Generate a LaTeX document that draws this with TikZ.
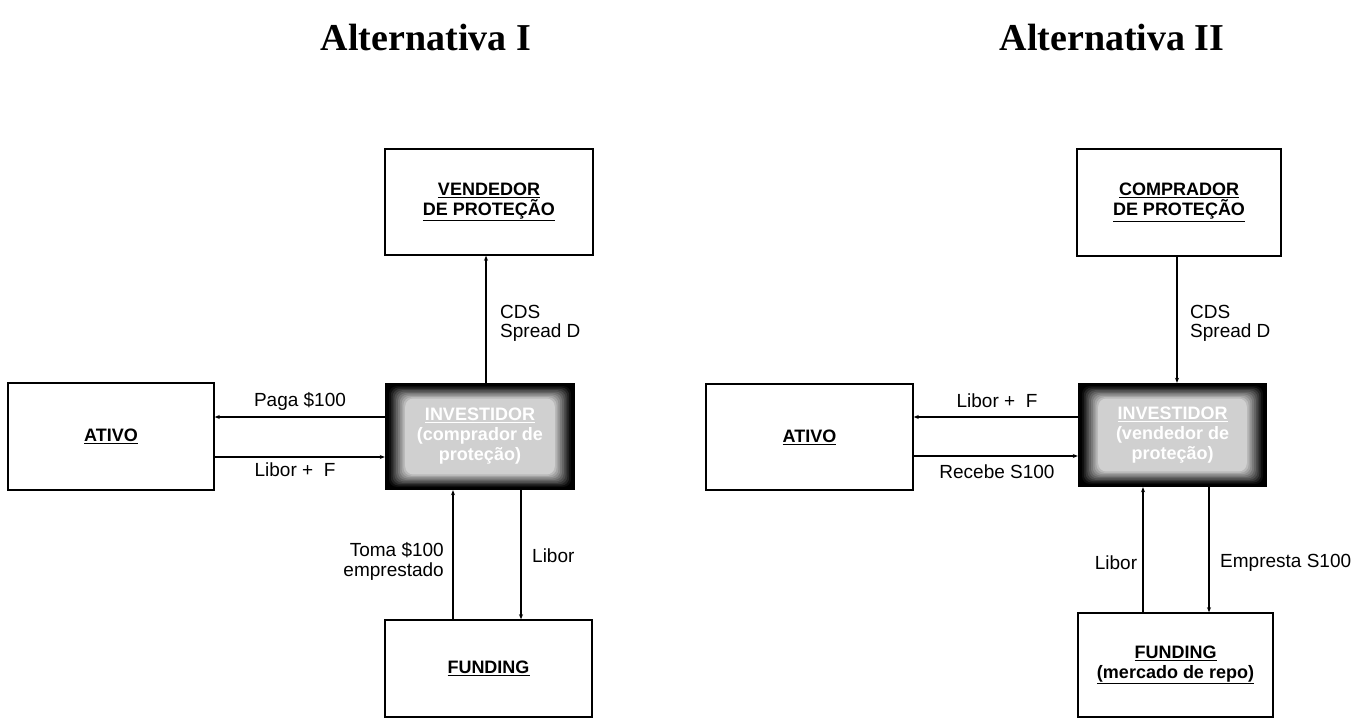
\documentclass[tikz,border=0pt]{standalone}
\usepackage{fontspec}
\setmainfont{Liberation Sans}
\newfontfamily\titlefont{Liberation Serif}
\usetikzlibrary{arrows.meta,calc}
\begin{document}
\begin{tikzpicture}[x=1pt,y=-1pt,
  box/.style={draw=black,line width=1.5pt,fill=white,align=center,font=\fontsize{18}{20}\selectfont\bfseries,inner sep=0pt},
  invbox/.style={fill=black,align=center,text=white,font=\fontsize{18}{20}\selectfont\bfseries,inner sep=0pt,
    path picture={
      \foreach \i in {0,...,9}{
        \pgfmathsetmacro{\ix}{4+1.8*\i}
        \pgfmathsetmacro{\iy}{3+1.4*\i}
        \pgfmathsetmacro{\cc}{95-8.5*\i}
        \fill[black!\cc,rounded corners=8pt]
          ($(path picture bounding box.south west)+(\ix pt,\iy pt)$) rectangle
          ($(path picture bounding box.north east)+(-\ix pt,-\iy pt)$);
      }
    }},
  lab/.style={font=\fontsize{19}{21}\selectfont,inner sep=0pt},
  ttl/.style={font=\titlefont\fontsize{38}{40}\selectfont\bfseries,inner sep=0pt},
  conn/.style={line width=1.6pt,-{Stealth[length=5pt,width=4pt]}},
]
\useasboundingbox (0,0) rectangle (1352,719);
\fill[white] (0,0) rectangle (1352,719);

% titles
\node[ttl] (t1) at (426,38) {Alternativa I};
\node[ttl] (t2) at (1112,38) {Alternativa II};

% ---------- Alternativa I ----------
\node[box,minimum width=208,minimum height=106] (vend) at (489,202) {\underline{VENDEDOR}\\\underline{DE PROTEÇÃO}};
\node[box,minimum width=206,minimum height=107] (ativo1) at (111,436.5) {\underline{ATIVO}};
\node[box,minimum width=207,minimum height=97] (fund1) at (488.5,668.5) {\underline{FUNDING}};
\node[invbox,minimum width=190,minimum height=107] (inv1) at (480,436.5) {\underline{INVESTIDOR}\\(comprador de\\proteção)};

\coordinate (x1) at (486,0);
\coordinate (y1a) at (0,417);
\coordinate (y1b) at (0,457);
\coordinate (x1a) at (453,0);
\coordinate (x1b) at (521,0);
\draw[conn] (inv1.north -| x1) -- (vend.south -| x1);
\draw[conn] (inv1.west |- y1a) -- (ativo1.east |- y1a);
\draw[conn] (ativo1.east |- y1b) -- (inv1.west |- y1b);
\draw[conn] (fund1.north -| x1a) -- (inv1.south -| x1a);
\draw[conn] (inv1.south -| x1b) -- (fund1.north -| x1b);

\node[lab,anchor=west] (l1) at (500,312) {CDS};
\node[lab,anchor=west] (l2) at (500,333) {Spread D};
\node[lab] (l3) at (300,401) {Paga \$100};
\node[lab] (l4) at (295,470) {Libor +\ \ F};
\node[lab,anchor=east] (l5) at (444,550) {Toma \$100};
\node[lab,anchor=east] (l6) at (444,572) {emprestado};
\node[lab,anchor=west] (l7) at (532,556) {Libor};

% ---------- Alternativa II ----------
\node[box,minimum width=204,minimum height=107] (comp) at (1179,202.5) {\underline{COMPRADOR}\\\underline{DE PROTEÇÃO}};
\node[box,minimum width=207,minimum height=106] (ativo2) at (809.5,437) {\underline{ATIVO}};
\node[box,minimum width=195,minimum height=104] (fund2) at (1175.5,665) {\underline{FUNDING}\\\underline{(mercado de repo)}};
\node[invbox,minimum width=189,minimum height=104] (inv2) at (1172.5,435) {\underline{INVESTIDOR}\\(vendedor de\\proteção)};

\coordinate (x2) at (1177,0);
\coordinate (y2a) at (0,417);
\coordinate (y2b) at (0,456);
\coordinate (x2a) at (1143,0);
\coordinate (x2b) at (1209,0);
\draw[conn] (comp.south -| x2) -- (inv2.north -| x2);
\draw[conn] (inv2.west |- y2a) -- (ativo2.east |- y2a);
\draw[conn] (ativo2.east |- y2b) -- (inv2.west |- y2b);
\draw[conn] (fund2.north -| x2a) -- (inv2.south -| x2a);
\draw[conn] (inv2.south -| x2b) -- (fund2.north -| x2b);

\node[lab,anchor=west] (m1) at (1190,312) {CDS};
\node[lab,anchor=west] (m2) at (1190,333) {Spread D};
\node[lab] (m3) at (997,401) {Libor +\ \ F};
\node[lab] (m4) at (997,472) {Recebe S100};
\node[lab] (m5) at (1116,563) {Libor};
\node[lab,anchor=west] (m6) at (1220,563) {Empresta S100};
\end{tikzpicture}
\end{document}
